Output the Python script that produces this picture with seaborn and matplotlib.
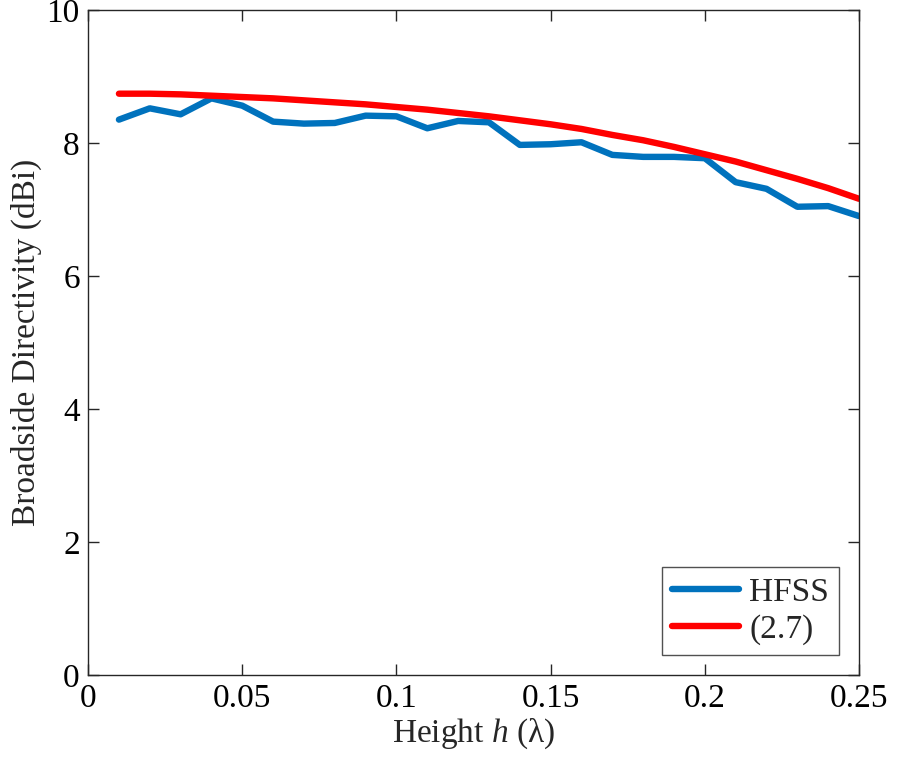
import seaborn as sns
import matplotlib.pyplot as plt
import pandas as pd

# heights in wavelengths
height = [0.01, 0.02, 0.03, 0.04, 0.05, 0.06, 0.07, 0.08, 0.09, 0.10,
          0.11, 0.12, 0.13, 0.14, 0.15, 0.16, 0.17, 0.18, 0.19, 0.20,
          0.21, 0.22, 0.23, 0.24, 0.25]
# simulated broadside directivity (dBi)
hfss = [8.35, 8.52, 8.43, 8.67, 8.56, 8.32, 8.29, 8.30, 8.41, 8.40,
        8.22, 8.33, 8.31, 7.97, 7.98, 8.01, 7.82, 7.79, 7.79, 7.77,
        7.41, 7.31, 7.04, 7.05, 6.90]
# analytic curve, eq (2.7)
eq27 = [8.74, 8.74, 8.73, 8.71, 8.69, 8.67, 8.64, 8.61, 8.58, 8.54,
        8.50, 8.45, 8.40, 8.34, 8.28, 8.21, 8.12, 8.04, 7.94, 7.83,
        7.72, 7.59, 7.46, 7.32, 7.16]

df = pd.DataFrame({
    'Height': height * 2,
    'Directivity': hfss + eq27,
    'Source': ['HFSS'] * len(height) + ['(2.7)'] * len(height)
})

sns.set_style('ticks')
plt.rcParams['font.family'] = ['Liberation Serif', 'DejaVu Serif']
plt.rcParams['mathtext.fontset'] = 'custom'
plt.rcParams['mathtext.it'] = 'Liberation Serif:italic'
plt.rcParams['mathtext.rm'] = 'Liberation Serif'

fig = plt.figure(figsize=(8.99, 7.61), dpi=100)
ax = fig.add_axes([0.098, 0.113, 0.8575, 0.874])

sns.lineplot(
    data=df, x='Height', y='Directivity', hue='Source',
    palette={'HFSS': '#0072BD', '(2.7)': '#FF0000'},
    linewidth=4.6, ax=ax
)

ax.set_xlim(0, 0.25)
ax.set_ylim(0, 10)
ax.set_xticks([0, 0.05, 0.1, 0.15, 0.2, 0.25])
ax.set_xticklabels(['0', '0.05', '0.1', '0.15', '0.2', '0.25'])
ax.set_yticks([0, 2, 4, 6, 8, 10])
ax.tick_params(direction='in', length=8, width=1, labelsize=24,
               top=True, right=True, pad=6, colors='#262626', labelcolor='black')
for s in ax.spines.values():
    s.set_linewidth(1)
    s.set_color('#262626')

ax.set_xlabel('Height $h$ (λ)', fontsize=24, labelpad=2)
ax.set_ylabel('Broadside Directivity (dBi)', fontsize=24, labelpad=3)

leg = ax.legend(loc='lower right', fontsize=24, frameon=True, fancybox=False,
                edgecolor='#262626', handlelength=2.0, borderpad=0.3,
                labelspacing=0.2, handletextpad=0.3, borderaxespad=0.6)
leg.get_frame().set_linewidth(1)

fig.savefig('out.png', dpi=100)
plt.close()
